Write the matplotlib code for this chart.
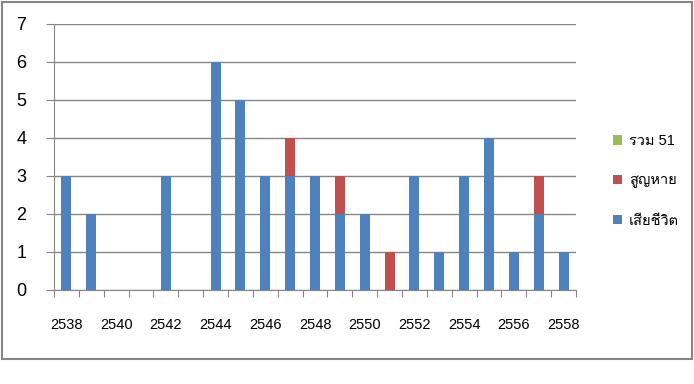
import numpy as np
import matplotlib.pyplot as plt
from matplotlib import font_manager as fm
from matplotlib.patches import Rectangle

# find a font that has Thai glyphs
thai_font = None
try:
    from fontTools.ttLib import TTFont
    for f in fm.fontManager.ttflist:
        try:
            cmap = TTFont(f.fname, fontNumber=0, lazy=True).getBestCmap()
        except Exception:
            continue
        if cmap and 0x0E2A in cmap and 0x0E0D in cmap:
            thai_font = f.name
            break
except Exception:
    pass

fams = ['Liberation Sans', 'DejaVu Sans']
if thai_font:
    fams = ['Liberation Sans', thai_font, 'DejaVu Sans']
plt.rcParams['font.family'] = fams

years = [str(y) for y in range(2538, 2559)]
dead = [3, 2, 0, 0, 3, 0, 6, 5, 3, 3, 3, 2, 2, 0, 3, 1, 3, 4, 1, 2, 1]
missing = [0, 0, 0, 0, 0, 0, 0, 0, 0, 1, 0, 1, 0, 1, 0, 0, 0, 0, 0, 1, 0]
total = [0] * len(years)
labels = ['เสียชีวิต', 'สูญหาย', 'รวม 51']
colors = ['#4F81BD', '#C0504D', '#9BBB59']

fig = plt.figure(figsize=(6.94, 3.84), dpi=100)
ax = fig.add_axes([54 / 694, 1 - 290 / 384, 522 / 694, 266 / 384])

x = np.arange(len(years))
bottom = np.zeros(len(years))
bars = []
for vals, c in zip([dead, missing, total], colors):
    b = ax.bar(x, vals, 0.4, bottom=bottom, color=c, zorder=3)
    bars.append(b)
    bottom += np.array(vals)

ax.set_xlim(-0.5, len(years) - 0.5)
ax.set_ylim(0, 7)
ax.set_yticks(range(8))
ax.tick_params(axis='y', labelsize=13, length=6, color='#868686', pad=14)
ax.grid(axis='y', color='#868686', lw=1, zorder=0)

ax.set_xticks(np.arange(-0.5, len(years)), [])
ax.set_xticks(x[::2], years[::2], minor=True)
ax.tick_params(axis='x', which='major', length=5, color='#868686')
ax.tick_params(axis='x', which='minor', length=0, labelsize=10.5, pad=20)

for s in ['top', 'right']:
    ax.spines[s].set_visible(False)
ax.spines['left'].set_color('#868686')
ax.spines['bottom'].set_color('#868686')

fig.patches.append(Rectangle((1.5 / 694, 1 - 359 / 384), 690 / 694, 357 / 384,
                             transform=fig.transFigure, fill=False,
                             edgecolor='#868686', lw=1.5))

handles = [bars[2], bars[1], bars[0]]
fig.legend(handles, [labels[2], labels[1], labels[0]], loc='center left',
           bbox_to_anchor=(600 / 694, 1 - 181 / 384), frameon=False,
           fontsize=10.5, handlelength=0.6, handleheight=0.6,
           handletextpad=0.5, labelspacing=1.75)

fig.savefig('out.png', dpi=100)
